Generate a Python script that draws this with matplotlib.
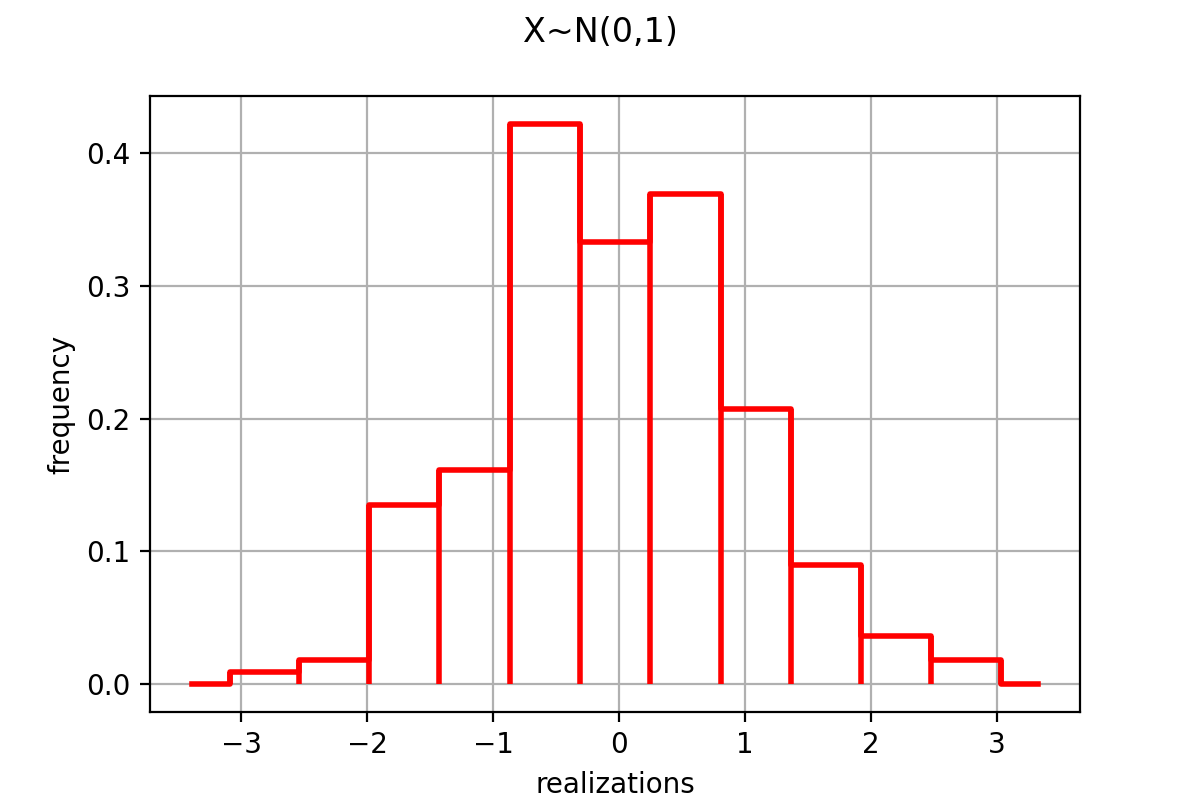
import matplotlib
matplotlib.use("Agg")
import matplotlib.pyplot as plt
import numpy as np

edges = [-3.388, -3.087, -2.541, -1.987, -1.425, -0.863, -0.309, 0.245, 0.807, 1.362, 1.924, 2.478, 3.032, 3.325]
heights = [0.0, 0.009, 0.018, 0.135, 0.161, 0.422, 0.333, 0.369, 0.207, 0.090, 0.036, 0.018, 0.0]

fig, ax = plt.subplots(figsize=(6, 4), dpi=200)
x = np.array(edges)
y = np.array(heights + [0.0])
ax.step(x, y, where='post', color='red', lw=2)
tops = [max(heights[i - 1], heights[i]) for i in range(1, len(heights))]
ax.vlines(x[1:-1], 0, tops, color='red', lw=2)
ax.grid(True)
ax.set_xlabel('realizations')
ax.set_ylabel('frequency')
fig.suptitle('X~N(0,1)')
fig.savefig('out.png')
